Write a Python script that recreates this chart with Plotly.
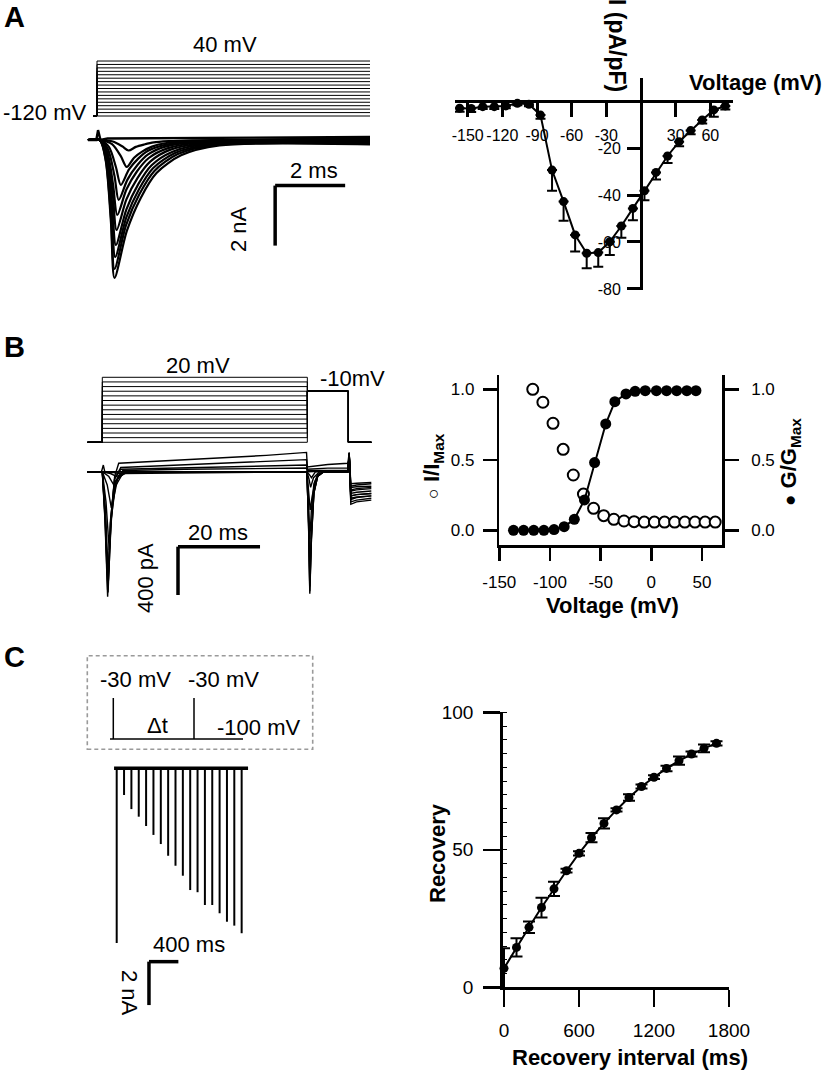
import plotly.graph_objects as go

W, H = 826, 1070
FONT = "Liberation Sans, Arial, Helvetica, sans-serif"

# ================= DATA =================
# --- Panel A: voltage protocol (mV), time in ms
A_step_levels = [-120, -110, -100, -90, -80, -70, -60, -50, -40, -30, -20, -10, 0, 10, 20, 30, 40]
A_hold_t0, A_step_t1 = -0.11, 7.8

# --- Panel A: current traces (t ms, I nA)
A_cur_t = [
    [-0.26, 0.08, 0.25, 0.40, 0.50, 0.85, 1.25, 1.70, 2.40, 3.50, 7.8],
    [-0.26, 0.08, 0.25, 0.40, 0.50, 0.83, 1.21, 1.64, 2.31, 3.35, 7.8],
    [-0.26, 0.08, 0.26, 0.42, 0.52, 0.84, 1.20, 1.60, 2.23, 3.22, 7.8],
    [-0.26, 0.08, 0.27, 0.43, 0.54, 0.84, 1.18, 1.56, 2.16, 3.09, 7.8],
    [-0.26, 0.08, 0.28, 0.45, 0.56, 0.84, 1.16, 1.52, 2.08, 2.96, 7.8],
    [-0.26, 0.08, 0.29, 0.46, 0.58, 0.84, 1.14, 1.48, 2.01, 2.83, 7.8],
    [-0.26, 0.08, 0.31, 0.50, 0.62, 0.87, 1.15, 1.46, 1.95, 2.72, 7.8],
    [-0.26, 0.08, 0.34, 0.54, 0.68, 0.91, 1.17, 1.46, 1.92, 2.63, 7.8],
    [-0.26, 0.08, 0.43, 0.68, 0.85, 1.06, 1.30, 1.57, 1.99, 2.65, 7.8],
    [-0.26, 0.08, 0.45, 0.72, 0.90, 1.11, 1.35, 1.62, 2.04, 2.70, 7.8],
]
A_cur_i = [
    [0, 0, -0.69, -2.76, -4.60, -3.04, -1.93, -1.10, -0.51, -0.18, -0.15],
    [0, 0, -0.65, -2.58, -4.30, -2.84, -1.81, -1.03, -0.47, -0.17, -0.12],
    [0, 0, -0.59, -2.34, -3.90, -2.57, -1.64, -0.94, -0.43, -0.16, -0.10],
    [0, 0, -0.53, -2.10, -3.50, -2.31, -1.47, -0.84, -0.39, -0.14, -0.08],
    [0, 0, -0.45, -1.80, -3.00, -1.98, -1.26, -0.72, -0.33, -0.12, -0.06],
    [0, 0, -0.38, -1.50, -2.50, -1.65, -1.05, -0.60, -0.28, -0.10, -0.04],
    [0, 0, -0.30, -1.20, -2.00, -1.32, -0.84, -0.48, -0.22, -0.08, -0.02],
    [0, 0, -0.23, -0.90, -1.50, -0.99, -0.63, -0.36, -0.17, -0.06, 0.00],
    [0, 0, -0.14, -0.54, -0.90, -0.59, -0.38, -0.22, -0.10, -0.04, 0.03],
    [0, 0, -0.05, -0.21, -0.35, -0.23, -0.15, -0.08, -0.04, -0.01, 0.06],
]
A_blip_t = [-0.26, -0.02, 0.03, 0.10, 0.30, 7.8]
A_blip_i = [0, 0, 0.33, 0.0, 0.05, 0.10]

# --- Panel A: I-V relation
iv_v = [-157, -147, -137, -127, -117, -107, -97, -87, -77, -67, -57, -47,
        -37, -27, -17, -7, 3, 13, 23, 33, 43, 53, 63, 73]
iv_i = [-3.1, -3.2, -2.4, -2.4, -2.1, -1.0, -1.4, -6.0, -29.4, -42.8, -57.0, -64.8,
        -64.5, -59.9, -53.2, -45.7, -38.2, -30.4, -23.4, -17.3, -12.6, -8.1, -3.8, -2.1]
iv_err = [1.5, 1.5, 1.0, 1.0, 1.0, 0.8, 0.8, 1.5, 8.8, 8.2, 7.0, 6.4,
          6.0, 5.6, 5.0, 5.0, 4.0, 3.0, 3.0, 2.0, 1.5, 1.5, 2.9, 1.5]
iv_xticks = [-150, -120, -90, -60, -30, 30, 60]
iv_xtext = ["-150", "-120", "-90", "-60", "-30", "30", "60"]
iv_yticks = [-20, -40, -60, -80]
iv_ytext = ["-20", "-40", "-60", "-80"]

# --- Panel B: voltage protocol (mV)
B_step_levels = [-120, -110, -100, -90, -80, -70, -60, -50, -40, -30, -20, -10, 0, 10, 20]
B_hold_mv, B_test_mv = -120, -10
B_t_start, B_t_step_end, B_t_test_end, B_t_end = -3.6, 50.0, 60.0, 65.6

# --- Panel B: current traces (t ms, I pA)
B_cur_t = [
    [-3.7, -0.2, 0.25, 0.6, 49.9, 50.3, 50.6, 51.0, 51.6, 52.5, 54, 59.9, 60.2, 60.6, 62, 65.6],
    [-3.7, 49.9, 50.3, 50.6, 51.0, 51.6, 52.5, 54, 59.9, 60.2, 60.6, 62, 65.6],
    [-3.7, 0, 2.5, 4.0, 6.0, 9.0, 49.9, 50.3, 50.6, 51.0, 51.6, 52.5, 54, 59.9, 60.2, 60.6, 62, 65.6],
    [-3.7, 0, 2.0, 3.5, 5.0, 7.5, 49.9, 50.3, 50.6, 51.0, 51.6, 52.5, 54, 59.9, 60.2, 60.6, 62, 65.6],
    [-3.7, 0, 1.6, 2.8, 4.0, 6.0, 49.9, 50.3, 50.6, 51.0, 51.6, 52.5, 54, 59.9, 60.2, 60.6, 62, 65.6],
    [-3.7, 0, 1.2, 2.2, 3.2, 5.0, 49.9, 50.3, 50.7, 51.2, 52.0, 53, 54, 59.9, 60.2, 60.6, 62, 65.6],
    [-3.7, 0, 0.9, 1.7, 2.5, 3.8, 6.0, 49.9, 50.4, 50.8, 51.5, 53, 59.9, 60.2, 60.6, 62, 65.6],
    [-3.7, 0, 0.8, 1.5, 2.2, 3.4, 5.5, 49.9, 50.5, 51.0, 52, 59.9, 60.2, 60.6, 62, 65.6],
    [-3.7, 0, 0.7, 1.4, 2.1, 3.2, 5.0, 20, 49.8, 50.0, 55, 59.9, 60.2, 60.6, 62, 65.6],
    [-3.7, 0, 0.65, 1.3, 2.0, 3.0, 4.0, 15, 30, 40, 49.8, 50.0, 55, 59.9, 60.2, 60.6, 62, 65.6],
    [-3.7, 0, 0.65, 1.3, 2.0, 3.0, 4.5, 25, 49.8, 50.0, 55, 59.9, 60.2, 60.6, 62, 65.6],
    [-3.7, 0, 0.7, 1.35, 2.0, 3.0, 4.5, 25, 49.8, 50.0, 59.9, 60.2, 60.6, 62, 65.6],
]
B_cur_i = [
    [0, 0, 55, 0, 0, -450, -1010, -560, -180, -40, 0, 0, 150, -230, -215, -200],
    [0, 0, -440, -990, -550, -175, -40, 0, 0, 150, -200, -190, -180],
    [0, 0, -6, -15, -6, 0, 0, -420, -950, -530, -170, -40, 0, 0, 140, -250, -235, -220],
    [0, 0, -15, -40, -15, 0, 0, -380, -850, -470, -150, -35, 0, 0, 130, -180, -170, -160],
    [0, 0, -40, -110, -45, -5, 0, -250, -560, -310, -100, -25, 0, 0, 140, -270, -250, -235],
    [0, 0, -110, -300, -120, -15, 0, -140, -317, -200, -70, -15, 0, 0, 130, -150, -140, -130],
    [0, 0, -250, -650, -260, -50, 0, 0, -60, -130, -50, 0, 0, 150, -200, -190, -180],
    [0, 0, -330, -900, -380, -70, 0, 0, -25, -50, 0, 0, 150, -120, -110, -100],
    [0, 0, -380, -1000, -420, -80, 10, 20, 30, 0, 5, 5, 150, -100, -95, -90],
    [0, 0, -400, -1035, -430, -40, 70, 90, 115, 135, 160, 40, 60, 70, 160, -160, -150, -140],
    [0, 0, -380, -980, -420, -60, 35, 65, 100, 20, 30, 30, 150, -220, -210, -200],
    [0, 0, -350, -940, -400, -60, 20, 35, 55, 10, 10, 150, -130, -125, -120],
]

# --- Panel B: steady-state inactivation / activation
inact_v = [-117, -107, -97, -87, -77, -67, -57, -47, -37, -27, -17, -7, 3, 13, 23, 33, 43, 53, 63]
inact = [1.0, 0.908, 0.759, 0.574, 0.392, 0.257, 0.156, 0.104, 0.078, 0.066, 0.061,
         0.058, 0.058, 0.058, 0.058, 0.058, 0.058, 0.058, 0.058]
act_v = [-136, -126, -116, -106, -96, -86, -76, -66, -56, -45, -36, -25, -16, -6, 5, 15, 25, 35, 44]
act = [0, 0, 0, 0, 0.005, 0.026, 0.078, 0.215, 0.48, 0.754, 0.912, 0.967, 0.986,
       0.99, 0.99, 0.99, 0.99, 0.99, 0.99]
b_xticks = [-150, -100, -50, 0, 50]
b_xtext = ["-150", "-100", "-50", "0", "50"]
b_yticks = [0, 0.5, 1.0]
b_ytext = ["0.0", "0.5", "1.0"]

# --- Panel C: recovery traces (t ms, peak nA)
C_spike_t = [0, 100, 200, 300, 400, 500, 600, 700, 800, 900, 1000, 1100, 1200,
             1300, 1400, 1500, 1600, 1700]
C_spike_amp = [8.05, 1.23, 1.88, 2.23, 2.66, 3.07, 3.49, 4.03, 4.49, 4.95, 5.61,
               5.71, 6.30, 6.30, 6.68, 7.07, 7.25, 7.60]
C_base_t = [-36, 1787]

# --- Panel C: recovery time course
rec_t = [0, 100, 200, 300, 400, 500, 600, 700, 800, 900, 1000, 1100, 1200,
         1300, 1400, 1500, 1600, 1700]
rec = [6.9, 14.5, 21.8, 29.0, 35.8, 42.4, 48.7, 54.4, 59.6, 64.5, 69.0, 73.0,
       76.4, 79.6, 82.4, 84.8, 86.9, 88.7]
rec_err = [7.3, 3.3, 2.1, 3.6, 2.6, 0.7, 0.8, 1.7, 1.9, 0.6, 1.2, 0.7, 0.7,
           1.0, 1.5, 0.9, 1.4, 0.8]
c_xticks = [0, 600, 1200, 1800]
c_yticks = [0, 50, 100]


# ================= HELPERS =================
def dx(a, b):
    return [a / W, b / W]


def dy(top, bottom):
    return [1 - bottom / H, 1 - top / H]


def ann(text, x, y, size=22, bold=False, angle=0, xanchor="center"):
    t = f"<b>{text}</b>" if bold else text
    return dict(text=t, x=x / W, y=1 - y / H, xref="paper", yref="paper",
                showarrow=False, textangle=angle, xanchor=xanchor, yanchor="middle",
                font=dict(size=size, color="black", family=FONT))


fig = go.Figure()

# ---- Panel A voltage steps
vx, vy = [], []
for v in A_step_levels:
    vx += [A_hold_t0, 0, 0, A_step_t1, None]
    vy += [A_step_levels[0], A_step_levels[0], v, v, None]
fig.add_trace(go.Scatter(x=vx, y=vy, mode="lines", line=dict(color="black", width=1),
                         xaxis="x", yaxis="y", hoverinfo="skip"))

# ---- Panel A current traces
fig.add_trace(go.Scatter(x=A_blip_t, y=A_blip_i, mode="lines",
                         line=dict(color="black", width=2.4), xaxis="x2", yaxis="y2"))
for tt, ii in zip(A_cur_t, A_cur_i):
    fig.add_trace(go.Scatter(x=tt, y=ii, mode="lines",
                             line=dict(color="black", width=2.2, shape="spline", smoothing=0.8),
                             xaxis="x2", yaxis="y2"))

# ---- Panel A IV curve
fig.add_trace(go.Scatter(x=iv_v, y=iv_i, mode="lines+markers",
                         line=dict(color="black", width=2),
                         marker=dict(color="black", size=9),
                         error_y=dict(type="data", symmetric=False, array=[0] * len(iv_err),
                                      arrayminus=iv_err, width=5, thickness=2, color="black"),
                         cliponaxis=False, xaxis="x3", yaxis="y3"))

# ---- Panel B voltage protocol
bx, by = [], []
for v in B_step_levels:
    bx += [B_t_start, 0, 0, B_t_step_end, B_t_step_end, B_t_test_end, B_t_test_end, B_t_end, None]
    by += [B_hold_mv, B_hold_mv, v, v, B_test_mv, B_test_mv, B_hold_mv, B_hold_mv, None]
fig.add_trace(go.Scatter(x=bx, y=by, mode="lines", line=dict(color="black", width=1),
                         xaxis="x6", yaxis="y6"))

# ---- Panel B currents
for tt, ii in zip(B_cur_t, B_cur_i):
    fig.add_trace(go.Scatter(x=tt, y=ii, mode="lines", line=dict(color="black", width=1.4),
                             xaxis="x7", yaxis="y7"))

# ---- Panel B steady state curves
fig.add_trace(go.Scatter(x=inact_v, y=inact, mode="markers",
                         marker=dict(color="white", size=11, line=dict(color="black", width=2)),
                         cliponaxis=False, xaxis="x4", yaxis="y4"))
fig.add_trace(go.Scatter(x=act_v, y=act, mode="lines+markers",
                         line=dict(color="black", width=2),
                         marker=dict(color="black", size=11),
                         cliponaxis=False, xaxis="x4", yaxis="y5"))

# ---- Panel C current spikes
sx, sy = [], []
for t, a in zip(C_spike_t, C_spike_amp):
    sx += [t, t, None]
    sy += [0, -a, None]
fig.add_trace(go.Scatter(x=C_base_t, y=[0, 0], mode="lines", line=dict(color="black", width=3.5),
                         xaxis="x8", yaxis="y8"))
fig.add_trace(go.Scatter(x=sx, y=sy, mode="lines", line=dict(color="black", width=2),
                         xaxis="x8", yaxis="y8"))

# ---- Panel C recovery
fig.add_trace(go.Scatter(x=rec_t, y=rec, mode="lines+markers",
                         line=dict(color="black", width=2),
                         marker=dict(color="black", size=9),
                         error_y=dict(type="data", array=rec_err, width=6, thickness=2, color="black"),
                         cliponaxis=False, xaxis="x9", yaxis="y9"))

hidden = dict(visible=False, showgrid=False, zeroline=False, fixedrange=True, automargin=False)
axfont = dict(family=FONT, color="black")


def shown(**kw):
    d = dict(showgrid=False, zeroline=False, showline=True, linecolor="black",
             ticks="outside", tickcolor="black", fixedrange=True, automargin=False)
    d.update(kw)
    return d


fig.update_layout(
    width=W, height=H, margin=dict(l=0, r=0, t=0, b=0, pad=0, autoexpand=False),
    paper_bgcolor="white", plot_bgcolor="white", showlegend=False,
    font=dict(family=FONT, color="black"),
    # Panel A traces
    xaxis=dict(domain=dx(85, 375), range=[-0.343, 7.943], anchor="y", **hidden),
    yaxis=dict(domain=dy(55, 120), range=[-131.6, 57.5], anchor="x", **hidden),
    xaxis2=dict(domain=dx(85, 375), range=[-0.343, 7.943], anchor="y2", **hidden),
    yaxis2=dict(domain=dy(125, 285), range=[-4.833, 0.5], anchor="x2", **hidden),
    # Panel A IV
    xaxis3=shown(domain=dx(455, 733), range=[-161.0, 79.65], anchor="free",
                 position=1 - 101 / H, linewidth=3, tickwidth=3, ticklen=14,
                 tickvals=iv_xticks, ticktext=iv_xtext, tickfont=dict(size=16, **axfont),
                 ticklabelstandoff=5, layer="below traces"),
    yaxis3=shown(domain=dy(78, 290), range=[-80.43, 9.79], anchor="free",
                 position=641 / W, linewidth=3, tickwidth=3, ticklen=13,
                 tickvals=iv_yticks, ticktext=iv_ytext, tickfont=dict(size=16, **axfont),
                 ticklabelstandoff=3, layer="below traces"),
    # Panel B steady-state
    xaxis4=shown(domain=dx(499.3, 722.3), range=[-150, 70], anchor="y4",
                 linewidth=2.5, tickwidth=2.5, ticklen=13,
                 tickvals=b_xticks, ticktext=b_xtext, tickfont=dict(size=17, **axfont),
                 ticklabelstandoff=7),
    yaxis4=shown(domain=dy(375, 545), range=[-0.1043, 1.1014], anchor="x4",
                 linewidth=2.5, tickwidth=2.5, ticklen=14,
                 tickvals=b_yticks, ticktext=b_ytext, tickfont=dict(size=17, **axfont),
                 ticklabelstandoff=5),
    yaxis5=shown(range=[-0.1043, 1.1014], anchor="x4", overlaying="y4", side="right",
                 linewidth=2.5, tickwidth=2.5, ticklen=14,
                 tickvals=b_yticks, ticktext=b_ytext, tickfont=dict(size=17, **axfont),
                 ticklabelstandoff=9),
    # Panel B traces
    xaxis6=dict(domain=dx(85, 375), range=[-4.22, 66.5], anchor="y6", **hidden),
    yaxis6=dict(domain=dy(370, 448), range=[-132.3, 35.7], anchor="x6", **hidden),
    xaxis7=dict(domain=dx(85, 375), range=[-4.22, 66.5], anchor="y7", **hidden),
    yaxis7=dict(domain=dy(445, 612), range=[-1161.7, 221.1], anchor="x7", **hidden),
    # Panel C traces
    xaxis8=dict(domain=dx(105, 255), range=[-159.2, 1881.6], anchor="y8", **hidden),
    yaxis8=dict(domain=dy(755, 1012), range=[-11.23, 0.613], anchor="x8", **hidden),
    # Panel C recovery
    xaxis9=shown(domain=dx(502.75, 729), range=[-10, 1800], anchor="y9",
                 linewidth=2.5, tickwidth=2.5, ticklen=17,
                 tickvals=c_xticks, tickfont=dict(size=19, **axfont), ticklabelstandoff=7),
    yaxis9=shown(domain=dy(712.3, 987.3), range=[0, 100], anchor="x9",
                 linewidth=2.5, tickwidth=2.5, ticklen=17,
                 tickvals=c_yticks, tickfont=dict(size=19, **axfont), ticklabelstandoff=6,
                 minor=dict(dtick=5, ticks="inside", ticklen=4, tickwidth=1, tickcolor="black")),
)

shapes = []
# scale bars
shapes += [
    dict(type="line", xref="x2", yref="y2", x0=5.09, x1=7.09, y0=-1.52, y1=-1.52,
         line=dict(color="black", width=3.5)),
    dict(type="line", xref="x2", yref="y2", x0=5.09, x1=5.09, y0=-1.52, y1=-3.52,
         line=dict(color="black", width=3.5)),
    dict(type="line", xref="x7", yref="y7", x0=18.46, x1=38.46, y0=-621, y1=-621,
         line=dict(color="black", width=3.5)),
    dict(type="line", xref="x7", yref="y7", x0=18.46, x1=18.46, y0=-621, y1=-1021,
         line=dict(color="black", width=3.5)),
    dict(type="line", xref="x8", yref="y8", x0=439, x1=839, y0=-8.91, y1=-8.91,
         line=dict(color="black", width=3.5)),
    dict(type="line", xref="x8", yref="y8", x0=439, x1=439, y0=-8.91, y1=-10.91,
         line=dict(color="black", width=3.5)),
]


def pline(x0, y0, x1, y1, w=1.5, color="black"):
    return dict(type="line", xref="paper", yref="paper", x0=x0 / W, x1=x1 / W,
                y0=1 - y0 / H, y1=1 - y1 / H, line=dict(color=color, width=w))


# Panel C protocol schematic (paper coords)
shapes += [
    dict(type="rect", xref="paper", yref="paper", x0=87.3 / W, x1=312.7 / W,
         y0=1 - 749.3 / H, y1=1 - 655.7 / H,
         line=dict(color="#9a9a9a", width=1.6, dash="4px,3px")),
    pline(110, 739, 243, 739),
    pline(113.3, 698, 113.3, 739),
    pline(194, 698, 194, 739),
]
fig.update_layout(shapes=shapes)

annots = [
    ann("A", 14, 17, size=29, bold=True),
    ann("B", 14, 347, size=29, bold=True),
    ann("C", 14, 657, size=29, bold=True),
    ann("40 mV", 225, 45),
    ann("-120 mV", 88, 112, xanchor="right"),
    ann("2 ms", 314, 170),
    ann("2 nA", 238, 229, angle=-90),
    ann("I (pA/pF)", 617, 45, size=23, bold=True, angle=90),
    ann("Voltage (mV)", 824, 82, size=22, bold=True, xanchor="right"),
    ann("20 mV", 198, 365),
    ann("-10mV", 352, 378),
    ann("20 ms", 218, 532),
    ann("400 pA", 145, 578, angle=-90),
    ann("<span style='font-size:18px'>○</span> I/I<sub>Max</sub>", 433, 466, size=22, bold=True, angle=-90),
    ann("<span style='font-size:19px'>●</span> G/G<sub>Max</sub>", 790, 462, size=22, bold=True, angle=-90),
    ann("Voltage (mV)", 612, 605, size=22, bold=True),
    ann("-30 mV", 135, 679),
    ann("-30 mV", 223, 679),
    ann("Δt", 157, 725),
    ann("-100 mV", 258, 727),
    ann("400 ms", 189, 944),
    ann("2 nA", 130, 993, angle=90),
    ann("Recovery", 437, 853, size=22, bold=True, angle=-90),
    ann("Recovery interval (ms)", 630, 1057, size=22, bold=True),
]
fig.update_layout(annotations=annots)

fig.write_html("out.html", config={"displayModeBar": False, "staticPlot": True},
               post_script="document.body.style.margin='0px';document.body.style.overflow='hidden';")
